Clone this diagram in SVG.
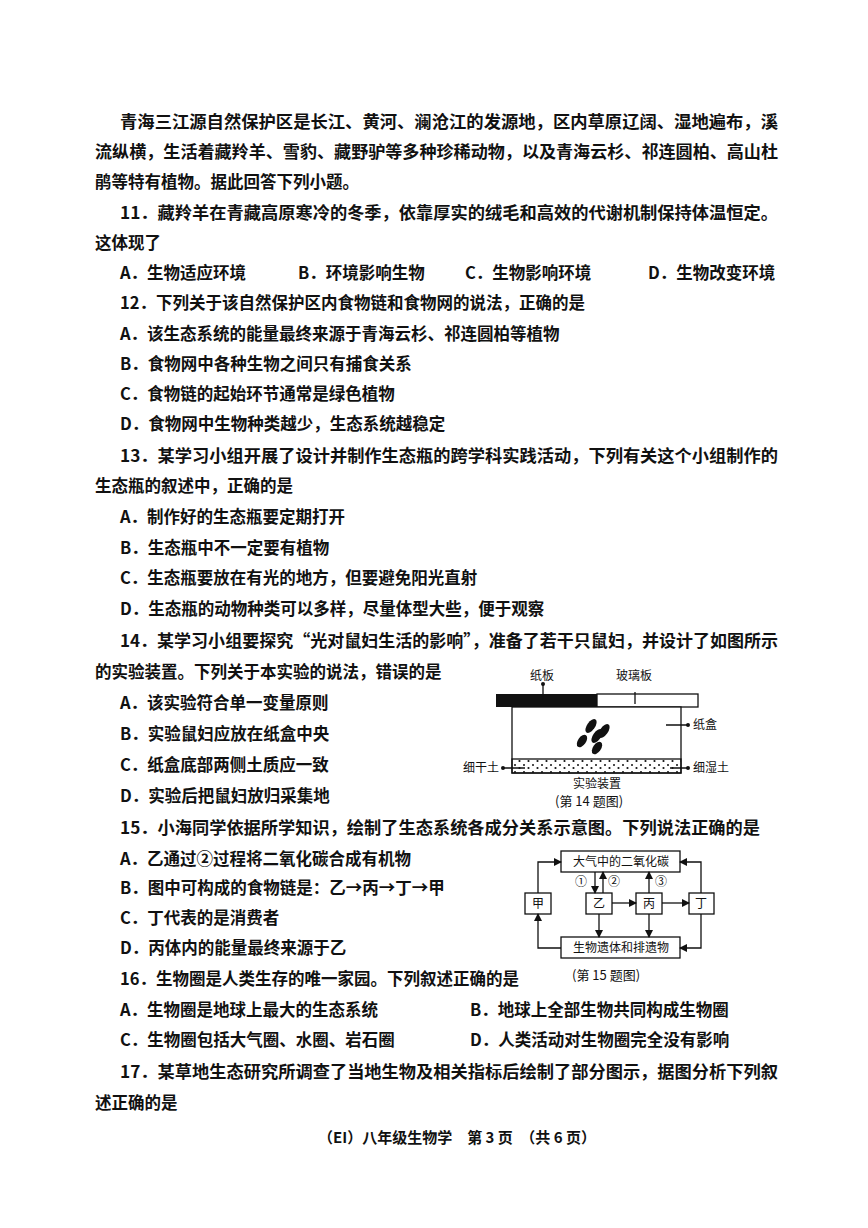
<svg xmlns="http://www.w3.org/2000/svg" width="868" height="1228" viewBox="0 0 868 1228">
<style>
text{font-family:"Noto Sans CJK SC","Liberation Sans",sans-serif;font-size:16.5px;fill:#111;font-weight:bold}
.s{font-size:12px;font-weight:normal}
.c{font-size:13px;font-weight:normal}
.b{fill:#fff;stroke:#111;stroke-width:1.3}
.l{stroke:#111;stroke-width:1.3;fill:none}
</style>
<defs>
<marker id="a" markerWidth="8" markerHeight="8" refX="7" refY="4" orient="auto" markerUnits="userSpaceOnUse"><path d="M0,0 L8,4 L0,8 z" fill="#111"/></marker>
<pattern id="dots" width="9" height="7" patternUnits="userSpaceOnUse"><circle cx="2" cy="2" r="1" fill="#111"/><circle cx="6.5" cy="5" r="1.1" fill="#111"/></pattern>
</defs>
<rect width="868" height="1228" fill="#fff"/>
<g id="text">
<text x="120" y="128" textLength="658" lengthAdjust="spacingAndGlyphs">青海三江源自然保护区是长江、黄河、澜沧江的发源地，区内草原辽阔、湿地遍布，溪</text>
<text x="95" y="158" textLength="683" lengthAdjust="spacingAndGlyphs">流纵横，生活着藏羚羊、雪豹、藏野驴等多种珍稀动物，以及青海云杉、祁连圆柏、高山杜</text>
<text x="95" y="188">鹃等特有植物。据此回答下列小题。</text>
<text x="120" y="219" textLength="658" lengthAdjust="spacingAndGlyphs">11．藏羚羊在青藏高原寒冷的冬季，依靠厚实的绒毛和高效的代谢机制保持体温恒定。</text>
<text x="95" y="249">这体现了</text>
<text x="120" y="279">A．生物适应环境</text><text x="298" y="279">B．环境影响生物</text><text x="465" y="279">C．生物影响环境</text><text x="648" y="279">D．生物改变环境</text>
<text x="120" y="309">12．下列关于该自然保护区内食物链和食物网的说法，正确的是</text>
<text x="120" y="340">A．该生态系统的能量最终来源于青海云杉、祁连圆柏等植物</text>
<text x="120" y="370">B．食物网中各种生物之间只有捕食关系</text>
<text x="120" y="400">C．食物链的起始环节通常是绿色植物</text>
<text x="120" y="430">D．食物网中生物种类越少，生态系统越稳定</text>
<text x="120" y="462" textLength="658" lengthAdjust="spacingAndGlyphs">13．某学习小组开展了设计并制作生态瓶的跨学科实践活动，下列有关这个小组制作的</text>
<text x="95" y="492">生态瓶的叙述中，正确的是</text>
<text x="120" y="523">A．制作好的生态瓶要定期打开</text>
<text x="120" y="554">B．生态瓶中不一定要有植物</text>
<text x="120" y="584">C．生态瓶要放在有光的地方，但要避免阳光直射</text>
<text x="120" y="615">D．生态瓶的动物种类可以多样，尽量体型大些，便于观察</text>
<text x="120" y="647" textLength="658" lengthAdjust="spacingAndGlyphs">14．某学习小组要探究“光对鼠妇生活的影响”，准备了若干只鼠妇，并设计了如图所示</text>
<text x="95" y="678">的实验装置。下列关于本实验的说法，错误的是</text>
<text x="120" y="709">A．该实验符合单一变量原则</text>
<text x="120" y="740">B．实验鼠妇应放在纸盒中央</text>
<text x="120" y="771">C．纸盒底部两侧土质应一致</text>
<text x="120" y="802">D．实验后把鼠妇放归采集地</text>
<text x="120" y="834" textLength="640" lengthAdjust="spacingAndGlyphs">15．小海同学依据所学知识，绘制了生态系统各成分关系示意图。下列说法正确的是</text>
<text x="120" y="865">A．乙通过②过程将二氧化碳合成有机物</text>
<text x="120" y="894">B．图中可构成的食物链是：乙→丙→丁→甲</text>
<text x="120" y="924">C．丁代表的是消费者</text>
<text x="120" y="954">D．丙体内的能量最终来源于乙</text>
<text x="120" y="985">16．生物圈是人类生存的唯一家园。下列叙述正确的是</text>
<text x="120" y="1016">A．生物圈是地球上最大的生态系统</text><text x="470" y="1016">B．地球上全部生物共同构成生物圈</text>
<text x="120" y="1046">C．生物圈包括大气圈、水圈、岩石圈</text><text x="470" y="1046">D．人类活动对生物圈完全没有影响</text>
<text x="120" y="1078" textLength="658" lengthAdjust="spacingAndGlyphs">17．某草地生态研究所调查了当地生物及相关指标后绘制了部分图示，据图分析下列叙</text>
<text x="95" y="1109">述正确的是</text>
<text x="318" y="1143" style="font-size:15px">（EI）八年级生物学　第 3 页　（共 6 页）</text>
</g>
<g id="fig14">
<rect x="496" y="694" width="101" height="13" fill="#111"/>
<rect x="597" y="694" width="101" height="13" class="b"/>
<rect x="512" y="707" width="169" height="66" class="b"/>
<rect x="512" y="759" width="169" height="14" fill="url(#dots)" stroke="#111" stroke-width="1.3"/>
<g fill="#111"><ellipse cx="591" cy="726" rx="4" ry="8" transform="rotate(35 591 726)"/><ellipse cx="597" cy="736" rx="4" ry="8" transform="rotate(35 597 736)"/><ellipse cx="604" cy="731" rx="4" ry="8" transform="rotate(35 604 731)"/><ellipse cx="582" cy="741" rx="4" ry="7" transform="rotate(35 582 741)"/><ellipse cx="597" cy="748" rx="4" ry="7" transform="rotate(35 597 748)"/></g>
<path class="l" d="M543,684V700M635,692V704M666,725H688M503,768H525M670,768H688"/>
<g fill="#111"><circle cx="543" cy="684" r="2"/><circle cx="688" cy="725" r="2"/><circle cx="503" cy="768" r="2"/><circle cx="688" cy="768" r="2"/></g>
<text class="s" x="530" y="680">纸板</text><text class="s" x="616" y="680">玻璃板</text><text class="s" x="693" y="729">纸盒</text>
<text class="s" x="463" y="772">细干土</text><text class="s" x="693" y="772">细湿土</text>
<text class="s" x="573" y="788">实验装置</text><text class="c" x="555" y="806">(第 14 题图)</text>
</g>
<g id="fig15">
<rect x="561" y="851" width="119" height="21" class="b"/><text class="s" x="573" y="866">大气中的二氧化碳</text>
<rect x="525" y="893" width="26" height="21" class="b"/><text class="s" x="532" y="908">甲</text>
<rect x="586" y="893" width="26" height="21" class="b"/><text class="s" x="593" y="908">乙</text>
<rect x="636" y="893" width="26" height="21" class="b"/><text class="s" x="643" y="908">丙</text>
<rect x="689" y="893" width="25" height="21" class="b"/><text class="s" x="695" y="908">丁</text>
<rect x="561" y="937" width="119" height="21" class="b"/><text class="s" x="573" y="952">生物遗体和排遗物</text>
<text class="s" x="575" y="886">①</text><text class="s" x="608" y="886">②</text><text class="s" x="655" y="886">③</text>
<text class="c" x="572" y="980">(第 15 题图)</text>
</g>
<g id="connectors" class="l" marker-end="url(#a)">
<path d="M595,872V893"/><path d="M603,893V872"/><path d="M649,893V872"/>
<path d="M612,903H636"/><path d="M662,903H689"/>
<path d="M599,914V937"/><path d="M649,914V937"/>
<path d="M538,893V862H561"/><path d="M701,893V862H680"/>
<path d="M561,948H538V914"/><path d="M701,914V948H680"/>
</g>
</svg>
